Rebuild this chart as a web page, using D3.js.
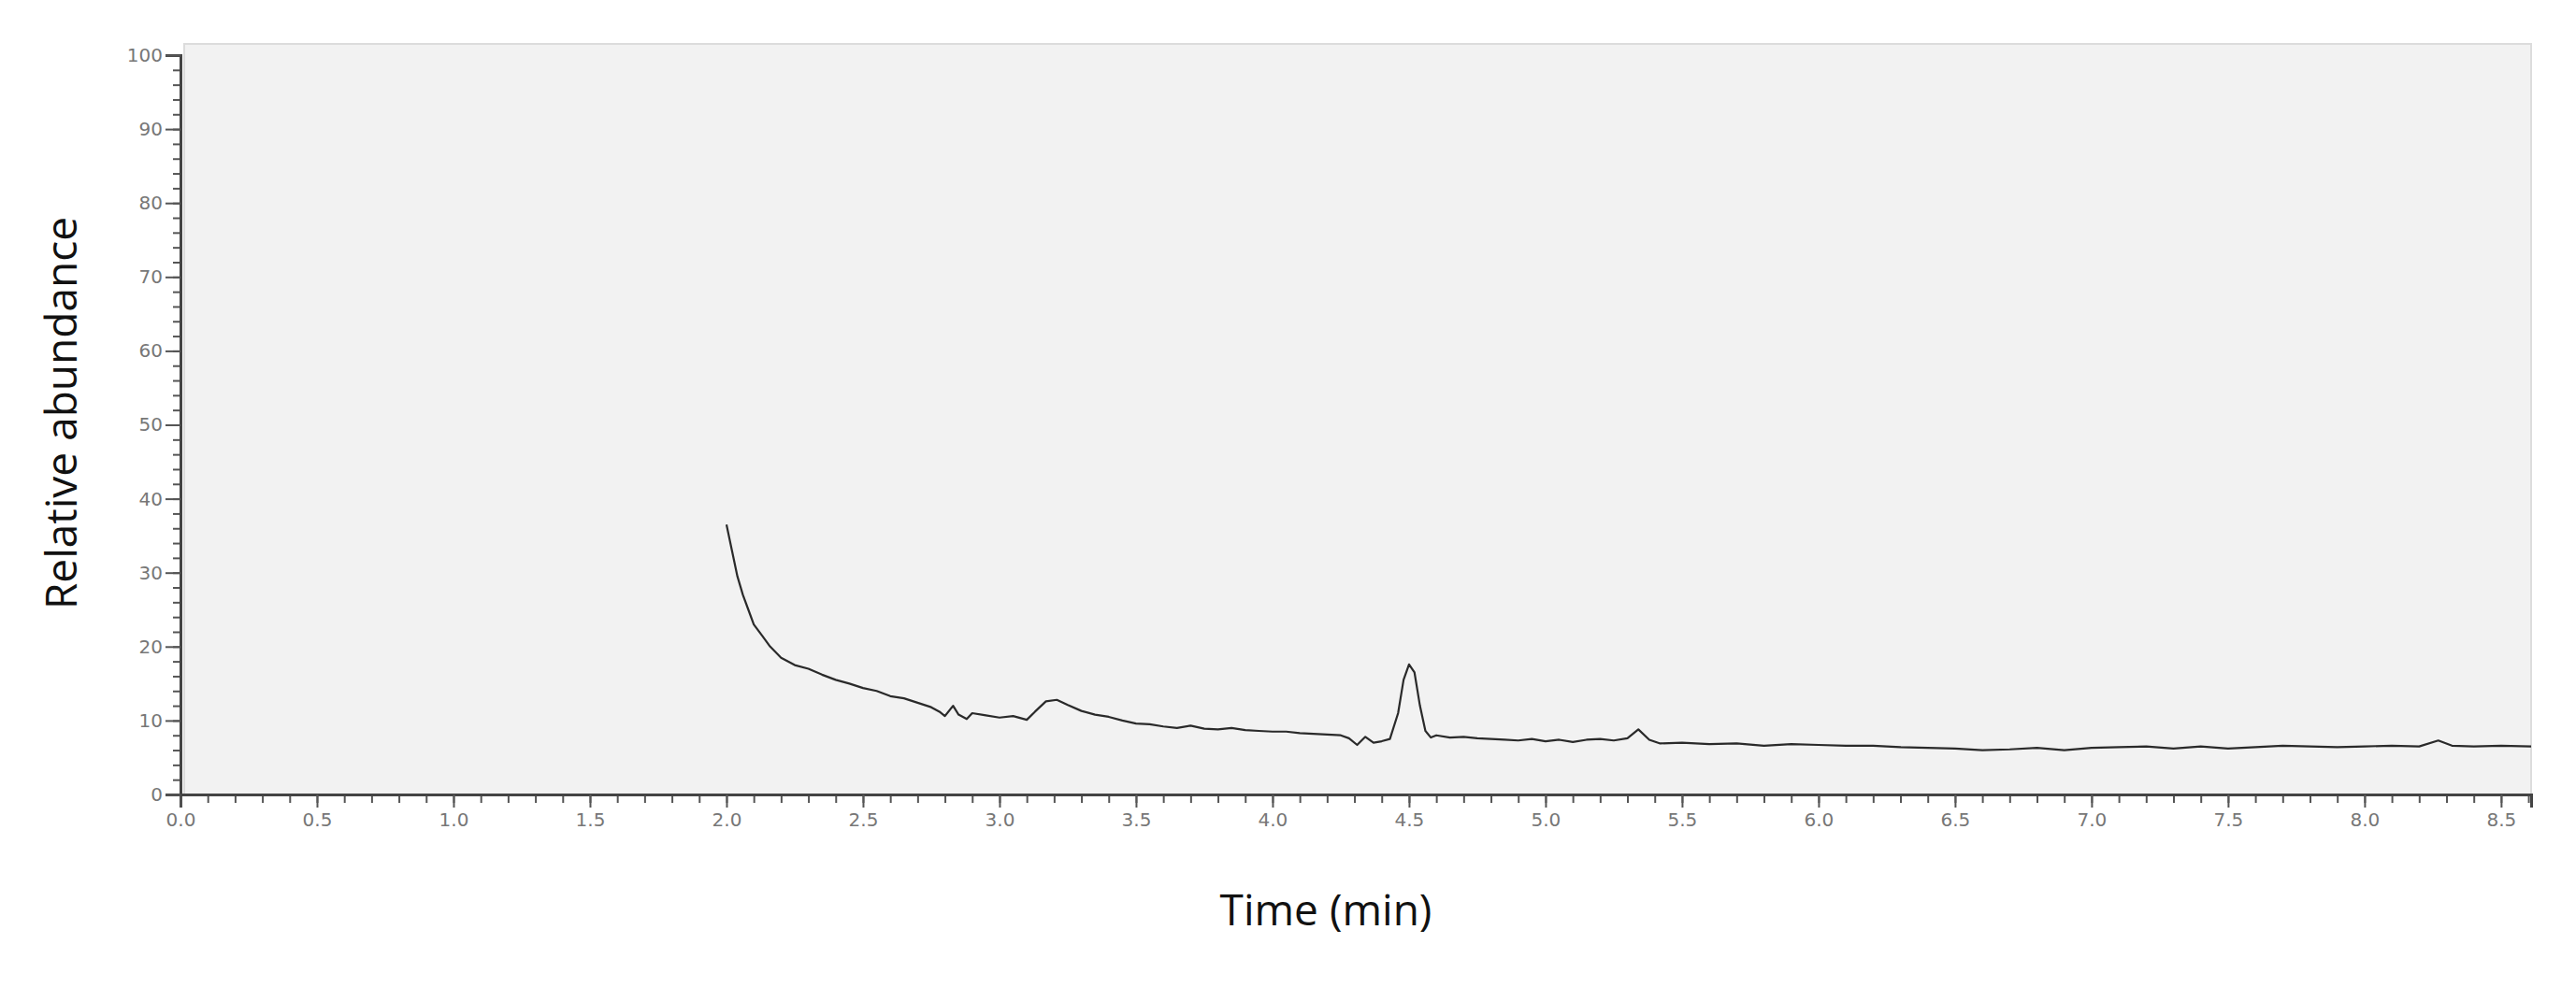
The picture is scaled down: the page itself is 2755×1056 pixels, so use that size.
<!DOCTYPE html>
<html>
<head>
<meta charset="utf-8">
<script src="https://cdn.jsdelivr.net/npm/d3@7"></script>
<style>
  body { margin: 0; background: #fff; }
  svg { display: block; }
</style>
</head>
<body>
<svg id="chart" width="2755" height="1056"></svg>
<script>
// trace (time in min, relative abundance)
const times = [
  2.00, 2.02, 2.04, 2.06, 2.08, 2.10, 2.13, 2.16, 2.20, 2.25, 2.30, 2.35, 2.40, 2.45, 2.50,
  2.55, 2.60, 2.65, 2.70, 2.75, 2.78, 2.80, 2.83, 2.85, 2.88, 2.90, 2.95, 3.00, 3.05, 3.10,
  3.13, 3.17, 3.21, 3.25, 3.30, 3.35, 3.40, 3.45, 3.50, 3.55, 3.60, 3.65, 3.70, 3.75, 3.80,
  3.85, 3.90, 3.95, 4.00, 4.05, 4.10, 4.15, 4.20, 4.25, 4.28, 4.31, 4.34, 4.37, 4.40, 4.43,
  4.46, 4.48, 4.50, 4.52, 4.54, 4.56, 4.58, 4.60, 4.65, 4.70, 4.75, 4.80, 4.85, 4.90, 4.95,
  5.00, 5.05, 5.10, 5.15, 5.20, 5.25, 5.30, 5.34, 5.38, 5.42, 5.50, 5.60, 5.70, 5.80, 5.90,
  6.00, 6.10, 6.20, 6.30, 6.40, 6.50, 6.60, 6.70, 6.80, 6.90, 7.00, 7.10, 7.20, 7.30, 7.40,
  7.50, 7.60, 7.70, 7.80, 7.90, 8.00, 8.10, 8.20, 8.27, 8.32, 8.40, 8.50, 8.61
]
const abundance = [
  36.5, 33.0, 29.5, 27.0, 25.0, 23.0, 21.5, 20.0, 18.5, 17.5, 17.0, 16.2, 15.5, 15.0, 14.4,
  14.0, 13.3, 13.0, 12.4, 11.8, 11.2, 10.6, 12.0, 10.8, 10.2, 11.0, 10.7, 10.4, 10.6, 10.1,
  11.2, 12.6, 12.8, 12.1, 11.3, 10.8, 10.5, 10.0, 9.6, 9.5, 9.2, 9.0, 9.3, 8.9, 8.8,
  9.0, 8.7, 8.6, 8.5, 8.5, 8.3, 8.2, 8.1, 8.0, 7.6, 6.7, 7.8, 7.0, 7.2, 7.5,
  11.0, 15.5, 17.6, 16.5, 12.0, 8.6, 7.7, 8.0, 7.7, 7.8, 7.6, 7.5, 7.4, 7.3, 7.5,
  7.2, 7.4, 7.1, 7.4, 7.5, 7.3, 7.6, 8.8, 7.4, 6.9, 7.0, 6.8, 6.9, 6.6, 6.8,
  6.7, 6.6, 6.6, 6.4, 6.3, 6.2, 6.0, 6.1, 6.3, 6.0, 6.3, 6.4, 6.5, 6.2, 6.5,
  6.2, 6.4, 6.6, 6.5, 6.4, 6.5, 6.6, 6.5, 7.3, 6.6, 6.5, 6.6, 6.5
]
const xTicks = [0, 0.5, 1, 1.5, 2, 2.5, 3, 3.5, 4, 4.5, 5, 5.5, 6, 6.5, 7, 7.5, 8, 8.5]
const yTicks = [0, 10, 20, 30, 40, 50, 60, 70, 80, 90, 100]

const svg = d3.select('#chart')
const plotLeft = 193, plotRight = 2707, plotTop = 47, plotBottom = 850

const x = d3.scaleLinear().domain([0, 8.61]).range([plotLeft, plotRight])
const y = d3.scaleLinear().domain([0, 100]).range([850, 59])

svg.append('rect')
  .attr('x', plotLeft + 4).attr('y', plotTop)
  .attr('width', plotRight - plotLeft - 4).attr('height', plotBottom - plotTop)
  .attr('fill', '#f2f2f2')
  .attr('stroke', '#dcdcdc').attr('stroke-width', 2)

const tickColor = '#777'
const fontTick = '"DejaVu Sans", sans-serif'

// minor ticks
svg.append('g').attr('transform', `translate(0,${plotBottom})`)
  .call(d3.axisBottom(x).tickValues(d3.range(0, 87).map(i => i / 10)).tickSize(9).tickFormat(''))
  .call(g => g.select('.domain').remove())
  .call(g => g.selectAll('line').attr('stroke', '#555').attr('stroke-width', 2))

svg.append('g').attr('transform', `translate(${plotLeft},0)`)
  .call(d3.axisLeft(y).tickValues(d3.range(0, 101, 2)).tickSize(8).tickFormat(''))
  .call(g => g.select('.domain').remove())
  .call(g => g.selectAll('line').attr('stroke', '#555').attr('stroke-width', 2))

// major ticks + labels
svg.append('g').attr('transform', `translate(0,${plotBottom})`)
  .call(d3.axisBottom(x).tickValues(xTicks).tickSize(14).tickPadding(6).tickFormat(d3.format('.1f')))
  .call(g => g.select('.domain').attr('stroke', '#444').attr('stroke-width', 3))
  .call(g => g.selectAll('line').attr('stroke', '#555').attr('stroke-width', 2))
  .call(g => g.selectAll('text').attr('fill', tickColor).attr('font-size', 20).attr('font-family', fontTick))

svg.append('g').attr('transform', `translate(${plotLeft},0)`)
  .call(d3.axisLeft(y).tickValues(yTicks).tickSize(16).tickPadding(3))
  .call(g => g.select('.domain').attr('stroke', '#444').attr('stroke-width', 3))
  .call(g => g.selectAll('line').attr('stroke', '#555').attr('stroke-width', 2))
  .call(g => g.selectAll('text').attr('fill', tickColor).attr('font-size', 20).attr('font-family', fontTick))

const line = d3.line().x((d, i) => x(times[i])).y(d => y(d))
svg.append('path')
  .datum(abundance)
  .attr('d', line)
  .attr('fill', 'none')
  .attr('stroke', '#2a2a2a')
  .attr('stroke-width', 2.2)
  .attr('stroke-linejoin', 'round')

svg.append('text')
  .attr('transform', 'translate(82,442) rotate(-90)')
  .attr('text-anchor', 'middle')
  .attr('font-family', '"Open Sans", sans-serif')
  .attr('font-size', 46)
  .attr('fill', '#111')
  .text('Relative abundance')

svg.append('text')
  .attr('x', 1418).attr('y', 990)
  .attr('text-anchor', 'middle')
  .attr('font-family', '"Open Sans", sans-serif')
  .attr('font-size', 46)
  .attr('fill', '#111')
  .text('Time (min)')
</script>
</body>
</html>
